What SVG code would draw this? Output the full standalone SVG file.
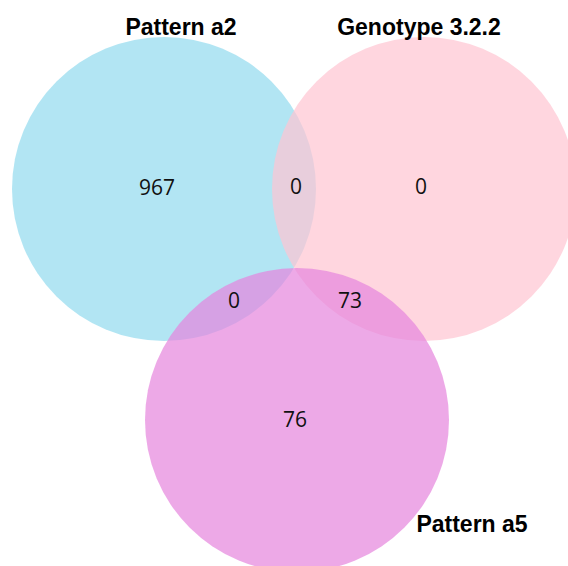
<svg xmlns="http://www.w3.org/2000/svg" width="568" height="566" viewBox="0 0 568 566">
<style>
.set{fill-opacity:0.7;stroke:none}
.title{font-family:"Liberation Sans",Arial,sans-serif;font-weight:bold;font-size:23px;fill:#000;text-anchor:middle}
.count{font-family:"Open Sans","Noto Sans",sans-serif;font-size:21px;fill:#111;text-anchor:middle}
</style>
<rect width="568" height="566" fill="#ffffff"/>
<g id="set-pattern-a2">
<circle class="set" cx="164" cy="189" r="152" fill="#92DAEE"/>
<text class="title" x="181" y="35">Pattern a2</text>
</g>
<g id="set-genotype-322">
<circle class="set" cx="424" cy="189" r="152" fill="#FFC4D2"/>
<text class="title" x="419" y="35">Genotype 3.2.2</text>
</g>
<g id="set-pattern-a5">
<circle class="set" cx="297" cy="420" r="152" fill="#E584DD"/>
<text class="title" x="472" y="532">Pattern a5</text>
</g>
<g id="counts">
<text class="count" x="157" y="195">967</text>
<text class="count" x="296" y="194">0</text>
<text class="count" x="421" y="194">0</text>
<text class="count" x="234" y="308">0</text>
<text class="count" x="350" y="308">73</text>
<text class="count" x="295" y="427">76</text>
</g>
</svg>
